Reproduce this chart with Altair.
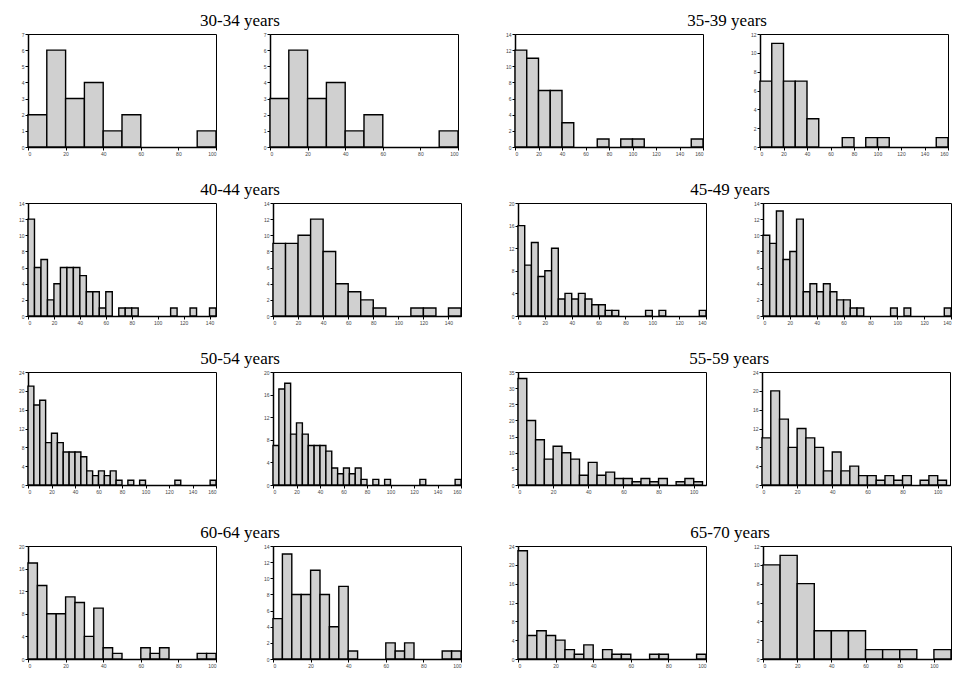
import altair as alt
import pandas as pd

# ---- data (counts per bin) ----
age_groups = ["30-34 years", "35-39 years", "40-44 years", "45-49 years",
              "50-54 years", "55-59 years", "60-64 years", "65-70 years"]

counts_30_34_a = [2, 6, 3, 4, 1, 2, 0, 0, 0, 1]
counts_30_34_b = [3, 6, 3, 4, 1, 2, 0, 0, 0, 1]
counts_35_39_a = [12, 11, 7, 7, 3, 0, 0, 1, 0, 1, 1, 0, 0, 0, 0, 1]
counts_35_39_b = [7, 11, 7, 7, 3, 0, 0, 1, 0, 1, 1, 0, 0, 0, 0, 1]
counts_40_44_a = [12, 6, 7, 2, 4, 6, 6, 6, 5, 3, 3, 1, 3, 0, 1, 1, 1,
                  0, 0, 0, 0, 0, 1, 0, 0, 1, 0, 0, 1]
counts_40_44_b = [9, 9, 10, 12, 8, 4, 3, 2, 1, 0, 0, 1, 1, 0, 1]
counts_45_49_a = [16, 9, 13, 7, 8, 12, 3, 4, 3, 4, 3, 2, 2, 1, 1,
                  0, 0, 0, 0, 1, 0, 1, 0, 0, 0, 0, 0, 1]
counts_45_49_b = [10, 9, 13, 7, 8, 12, 3, 4, 3, 4, 3, 2, 2, 1, 1,
                  0, 0, 0, 0, 1, 0, 1, 0, 0, 0, 0, 0, 1]
counts_50_54_a = [21, 17, 18, 9, 11, 9, 7, 7, 7, 6, 3, 2, 3, 2, 3, 1,
                  0, 1, 0, 1, 0, 0, 0, 0, 0, 1, 0, 0, 0, 0, 0, 1]
counts_50_54_b = [7, 17, 18, 9, 11, 9, 7, 7, 7, 6, 3, 2, 3, 2, 3, 1,
                  0, 1, 0, 1, 0, 0, 0, 0, 0, 1, 0, 0, 0, 0, 0, 1]
counts_55_59_a = [33, 20, 14, 8, 12, 10, 8, 3, 7, 3, 4, 2, 2, 1, 2, 1, 2, 0, 1, 2, 1]
counts_55_59_b = [10, 20, 14, 8, 12, 10, 8, 3, 7, 3, 4, 2, 2, 1, 2, 1, 2, 0, 1, 2, 1]
counts_60_64_a = [17, 13, 8, 8, 11, 10, 4, 9, 2, 1, 0, 0, 2, 1, 2, 0, 0, 0, 1, 1]
counts_60_64_b = [5, 13, 8, 8, 11, 8, 4, 9, 1, 0, 0, 0, 2, 1, 2, 0, 0, 0, 1, 1]
counts_65_70_a = [23, 5, 6, 5, 4, 2, 1, 3, 0, 2, 1, 1, 0, 0, 1, 1, 0, 0, 0, 1]
counts_65_70_b = [10, 11, 8, 3, 3, 3, 1, 1, 1, 0, 1]

# bin width, x max, y max, y step for each panel
bin_widths = [10, 10, 10, 10, 5, 10, 5, 5, 5, 5, 5, 5, 5, 5, 5, 10]
x_max = [100, 100, 160, 160, 145, 150, 140, 140, 160, 160, 107, 107, 100, 100, 100, 110]
y_max = [7, 7, 14, 12, 14, 14, 20, 14, 24, 20, 35, 24, 20, 14, 24, 12]
y_step = [1, 1, 2, 2, 2, 2, 4, 2, 4, 4, 5, 4, 4, 2, 4, 2]

all_counts = [counts_30_34_a, counts_30_34_b, counts_35_39_a, counts_35_39_b,
              counts_40_44_a, counts_40_44_b, counts_45_49_a, counts_45_49_b,
              counts_50_54_a, counts_50_54_b, counts_55_59_a, counts_55_59_b,
              counts_60_64_a, counts_60_64_b, counts_65_70_a, counts_65_70_b]

W, H = 188, 113


def panel(i):
    counts = all_counts[i]
    bw = bin_widths[i]
    rows = [{"start": k * bw, "end": (k + 1) * bw, "count": c, "base": 0}
            for k, c in enumerate(counts) if c > 0]
    df = pd.DataFrame(rows)
    return alt.Chart(df).mark_rect(
        fill="#d0d0d0", stroke="black", strokeWidth=1.4
    ).encode(
        x=alt.X("start:Q",
                scale=alt.Scale(domain=[0, x_max[i]], nice=False, zero=True),
                axis=alt.Axis(values=list(range(0, x_max[i] + 1, 20)), title=None)),
        x2="end:Q",
        y=alt.Y("count:Q",
                scale=alt.Scale(domain=[0, y_max[i]], nice=False),
                axis=alt.Axis(values=list(range(0, y_max[i] + 1, y_step[i])), title=None)),
        y2="base:Q",
    ).properties(width=W, height=H)


rows = []
for r in range(4):
    pairs = []
    for p in range(2):
        g = r * 2 + p
        pairs.append(alt.hconcat(panel(2 * g), panel(2 * g + 1), spacing=44,
                                 title=alt.Title(age_groups[g])))
    rows.append(alt.hconcat(pairs[0], pairs[1], spacing=44))

top_rows = alt.vconcat(rows[0], rows[1], rows[2], spacing=23)
chart = alt.vconcat(top_rows, rows[3], spacing=28).properties(
    padding={"left": 9, "right": 0, "top": 3, "bottom": 0}
).configure_axis(
    labelFontSize=5, labelColor="#444", tickColor="black", tickSize=3,
    domainColor="black", domainWidth=1.5, grid=False, labelPadding=1,
    labelFont="Liberation Sans"
).configure_view(
    stroke="black", strokeWidth=1
).configure_title(
    font="Liberation Serif", fontSize=17, fontWeight="normal",
    anchor="middle", offset=2, color="black"
)

chart.save("out.html", embed_options={"renderer": "svg", "actions": False})
